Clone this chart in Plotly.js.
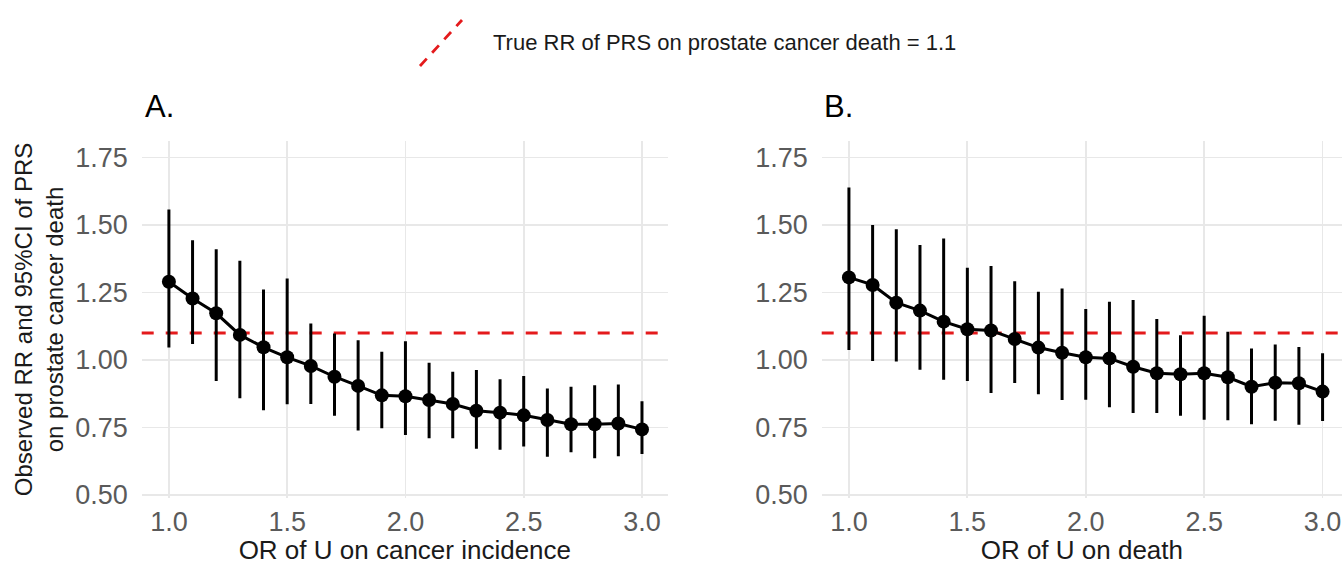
<!DOCTYPE html>
<html>
<head>
<meta charset="utf-8">
<script src="https://cdn.plot.ly/plotly-3.0.1.min.js"></script>
<style>
  html, body { margin: 0; padding: 0; background: #ffffff; }
  #chart { width: 1342px; height: 565px; }
</style>
</head>
<body>
<div id="chart"></div>
<script>
// ---- Data ----
var orValues = [1.0, 1.1, 1.2, 1.3, 1.4, 1.5, 1.6, 1.7, 1.8, 1.9, 2.0, 2.1, 2.2, 2.3, 2.4, 2.5, 2.6, 2.7, 2.8, 2.9, 3.0];

// Panel A: OR of U on cancer incidence
var rrA    = [1.290, 1.228, 1.173, 1.093, 1.047, 1.010, 0.978, 0.938, 0.904, 0.869, 0.866, 0.852, 0.837, 0.812, 0.805, 0.795, 0.778, 0.762, 0.762, 0.765, 0.743];
var upperA = [1.552, 1.438, 1.405, 1.362, 1.256, 1.296, 1.130, 1.093, 1.068, 1.025, 1.064, 0.984, 0.951, 0.957, 0.923, 0.935, 0.889, 0.895, 0.901, 0.904, 0.842];
var lowerA = [1.052, 1.065, 0.928, 0.864, 0.819, 0.842, 0.843, 0.799, 0.744, 0.753, 0.728, 0.716, 0.716, 0.677, 0.673, 0.685, 0.647, 0.664, 0.642, 0.649, 0.657];

// Panel B: OR of U on death
var rrB    = [1.306, 1.278, 1.212, 1.183, 1.142, 1.114, 1.109, 1.078, 1.046, 1.027, 1.010, 1.006, 0.975, 0.951, 0.947, 0.951, 0.936, 0.901, 0.916, 0.914, 0.883];
var upperB = [1.633, 1.494, 1.479, 1.420, 1.444, 1.336, 1.343, 1.286, 1.247, 1.259, 1.183, 1.210, 1.217, 1.146, 1.086, 1.158, 1.099, 1.037, 1.052, 1.043, 1.019];
var lowerB = [1.043, 1.002, 1.000, 0.969, 0.932, 0.928, 0.883, 0.920, 0.879, 0.857, 0.858, 0.831, 0.809, 0.809, 0.799, 0.784, 0.782, 0.768, 0.781, 0.766, 0.780];

var trueRR = 1.1;
var legendLabel = "True RR of PRS on prostate cancer death = 1.1";
var xTickVals = [1.0, 1.5, 2.0, 2.5, 3.0];
var xTickText = ["1.0", "1.5", "2.0", "2.5", "3.0"];
var yTickVals = [0.50, 0.75, 1.00, 1.25, 1.50, 1.75];
var yTickText = ["0.50", "0.75", "1.00", "1.25", "1.50", "1.75"];

// ---- Build ----
var W = 1342, H = 565;
function px(x) { return x / W; }
function py(y) { return 1 - y / H; }

function diff(a, b) { return a.map(function (v, i) { return v - b[i]; }); }

var FONT = "Liberation Sans, Arial, Helvetica, sans-serif";

function panelTrace(rr, up, lo, xa, ya) {
  return {
    type: "scatter",
    mode: "lines+markers",
    x: orValues,
    y: rr,
    xaxis: xa,
    yaxis: ya,
    showlegend: false,
    line: { color: "#000000", width: 3 },
    marker: { color: "#000000", size: 14 },
    error_y: {
      type: "data",
      symmetric: false,
      array: diff(up, rr),
      arrayminus: diff(rr, lo),
      color: "#000000",
      thickness: 3,
      width: 1.5
    },
    hoverinfo: "x+y"
  };
}

var traces = [
  panelTrace(rrA, upperA, lowerA, "x", "y"),
  panelTrace(rrB, upperB, lowerB, "x2", "y2")
];

var yDomain = [py(497.7), py(141.3)];

function xAxis(domain, range, anchor, title) {
  return {
    domain: domain,
    range: range,
    anchor: anchor,
    tickvals: xTickVals,
    ticktext: xTickText,
    ticks: "",
    ticklabelstandoff: 5,
    tickfont: { family: FONT, size: 27, color: "#5a5a5a" },
    showgrid: true,
    gridcolor: "#e8e8e8",
    gridwidth: 1.8,
    zeroline: false,
    showline: false,
    title: { text: title, font: { family: FONT, size: 26, color: "#1a1a1a" }, standoff: 2 }
  };
}

function yAxis(anchor, title) {
  var ax = {
    domain: yDomain,
    range: [0.49, 1.81],
    anchor: anchor,
    tickvals: yTickVals,
    ticktext: yTickText,
    ticks: "",
    ticklabelstandoff: 13,
    tickfont: { family: FONT, size: 27, color: "#5a5a5a" },
    showgrid: true,
    gridcolor: "#e8e8e8",
    gridwidth: 1.8,
    zeroline: false,
    showline: false
  };
  if (title) {
    ax.title = { text: title, font: { family: FONT, size: 24, color: "#1a1a1a" }, standoff: 4 };
  }
  return ax;
}

var layout = {
  width: W,
  height: H,
  margin: { l: 0, r: 0, t: 0, b: 0 },
  paper_bgcolor: "#ffffff",
  plot_bgcolor: "#ffffff",
  font: { family: FONT },
  showlegend: false,
  xaxis: xAxis([px(141.7), px(668)], [0.885, 3.11], "y", "OR of U on cancer incidence"),
  yaxis: yAxis("x", "Observed RR and 95%CI of PRS<br>on prostate cancer death"),
  xaxis2: xAxis([px(821.7), 1], [0.885, 3.082], "y2", "OR of U on death"),
  yaxis2: yAxis("x2", null),
  shapes: [
    { type: "line", xref: "x domain", yref: "y", x0: 0, x1: 1, y0: trueRR, y1: trueRR,
      line: { color: "#e41a1c", width: 2.8, dash: "12px,12px" }, layer: "below" },
    { type: "line", xref: "x2 domain", yref: "y2", x0: 0, x1: 1, y0: trueRR, y1: trueRR,
      line: { color: "#e41a1c", width: 2.8, dash: "12px,12px" }, layer: "below" },
    // legend key (diagonal dashed line, as drawn by ggplot's hline key)
    { type: "line", xref: "paper", yref: "paper", x0: px(420), y0: py(66), x1: px(462), y1: py(20),
      line: { color: "#e41a1c", width: 2.8, dash: "10px,8px" } }
  ],
  annotations: [
    { text: legendLabel, xref: "paper", yref: "paper", x: px(491), y: py(43),
      xanchor: "left", yanchor: "middle", showarrow: false,
      font: { family: FONT, size: 22, color: "#1a1a1a" } },
    { text: "A.", xref: "paper", yref: "paper", x: px(143), y: py(106),
      xanchor: "left", yanchor: "middle", showarrow: false,
      font: { family: FONT, size: 31, color: "#000000" } },
    { text: "B.", xref: "paper", yref: "paper", x: px(822), y: py(106),
      xanchor: "left", yanchor: "middle", showarrow: false,
      font: { family: FONT, size: 31, color: "#000000" } }
  ]
};

Plotly.newPlot("chart", traces, layout, { displayModeBar: false, staticPlot: true });
</script>
</body>
</html>
